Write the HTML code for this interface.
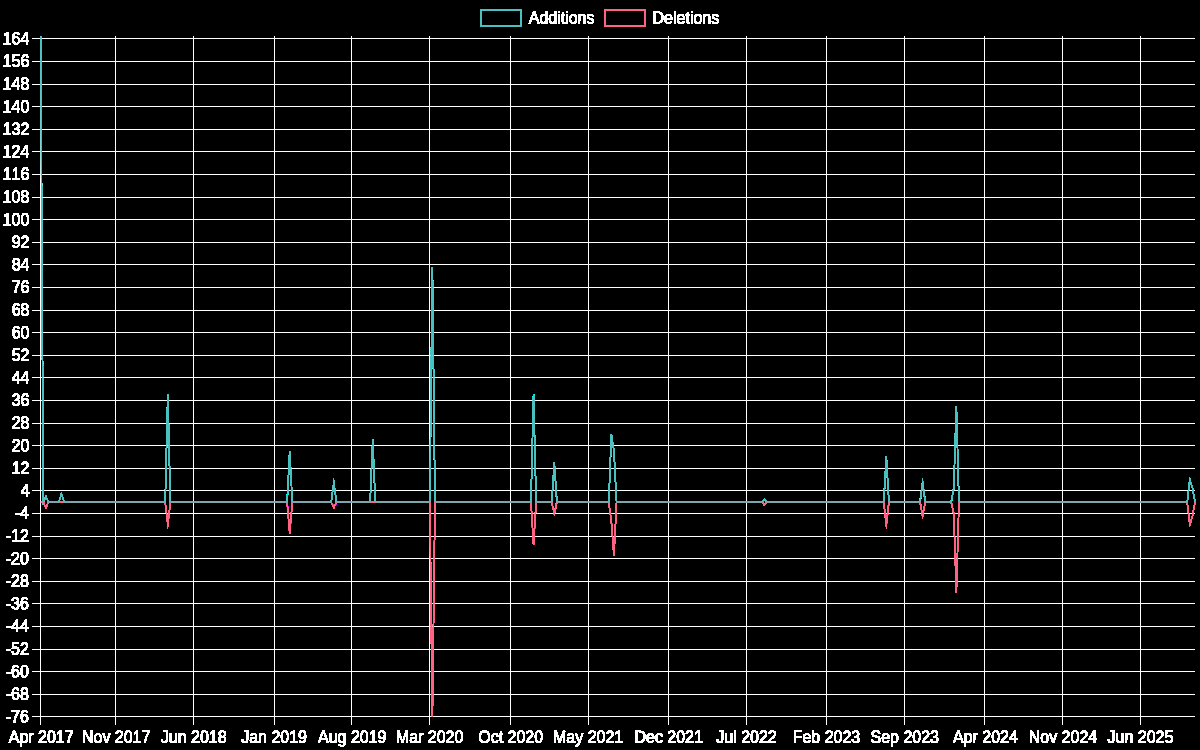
<!DOCTYPE html>
<html lang="en"><head><meta charset="utf-8"><title>Additions / Deletions</title>
<style>html,body{margin:0;padding:0;background:#000;overflow:hidden}body{width:1200px;height:750px;position:relative;font-family:"Liberation Sans",sans-serif}svg{position:absolute;left:0;top:0;display:block}text{font-family:"Liberation Sans",sans-serif;font-size:16px;fill:#fff;font-kerning:none}</style></head><body>
<svg width="1200" height="750" viewBox="0 0 1200 750">
<defs><filter id="th" x="0" y="0" width="1200" height="750" filterUnits="userSpaceOnUse" color-interpolation-filters="sRGB"><feComponentTransfer><feFuncA type="discrete" tableValues="0 1 1 1 1 1 1 1 1 1 1 1 1 1 1 1 1 1 1 1 1 1 1 1 1 1 1 1 1 1 1 1 1 1 1 1 1 1 1 1 1 1 1 1 1 1 1 1 1 1 1 1 1 1 1 1 1 1 1 1 1 1 1 1 1 1 1 1 1 1 1 1 1 1 1 1 1 1 1 1 1 1 1 1 1 1 1 1 1 1 1 1 1 1 1 1 1 1 1 1 1 1 1 1 1 1 1 1 1 1 1 1 1 1 1 1 1 1 1 1 1 1 1 1 1 1 1 1 1 1 1 1 1 1 1 1 1 1 1 1 1 1 1 1 1 1 1 1 1 1 1 1 1 1 1 1 1 1 1 1 1 1 1 1 1 1 1 1 1 1 1 1 1 1 1 1 1 1 1 1 1 1 1 1 1 1 1 1 1 1 1 1 1 1 1 1 1 1 1 1 1 1 1 1 1 1 1 1 1 1 1 1 1 1 1 1 1 1 1 1 1 1 1 1 1 1 1 1 1 1 1 1 1 1 1 1 1 1 1 1 1 1 1 1 1 1 1 1 1 1 1 1 1 1 1"/></feComponentTransfer></filter>
<clipPath id="cp"><rect x="40.1953" y="35.5000" width="1155.3047" height="681.8000"/></clipPath></defs>
<rect width="1200" height="750" fill="#000"/>
<g filter="url(#th)">
<path d="M40.5 36.00V724.80M115.5 36.00V724.80M193.5 36.00V724.80M274.5 36.00V724.80M351.5 36.00V724.80M429.5 36.00V724.80M510.5 36.00V724.80M588.5 36.00V724.80M668.5 36.00V724.80M746.5 36.00V724.80M826.5 36.00V724.80M904.5 36.00V724.80M984.5 36.00V724.80M1062.5 36.00V724.80M1140.5 36.00V724.80" stroke="rgba(255,255,255,0.2)" stroke-width="1" fill="none"/>
<path d="M32.6953 38.5H1195.00M32.6953 61.5H1195.00M32.6953 84.5H1195.00M32.6953 106.5H1195.00M32.6953 129.5H1195.00M32.6953 151.5H1195.00M32.6953 174.5H1195.00M32.6953 197.5H1195.00M32.6953 219.5H1195.00M32.6953 242.5H1195.00M32.6953 264.5H1195.00M32.6953 287.5H1195.00M32.6953 310.5H1195.00M32.6953 332.5H1195.00M32.6953 355.5H1195.00M32.6953 377.5H1195.00M32.6953 400.5H1195.00M32.6953 423.5H1195.00M32.6953 445.5H1195.00M32.6953 468.5H1195.00M32.6953 490.5H1195.00M32.6953 513.5H1195.00M32.6953 536.5H1195.00M32.6953 558.5H1195.00M32.6953 581.5H1195.00M32.6953 603.5H1195.00M32.6953 626.5H1195.00M32.6953 649.5H1195.00M32.6953 671.5H1195.00M32.6953 694.5H1195.00M32.6953 716.5H1195.00" stroke="rgba(255,255,255,0.2)" stroke-width="1" fill="none"/>
<g clip-path="url(#cp)" fill="none" stroke-linejoin="miter" stroke-miterlimit="10" stroke-linecap="butt">
<path d="M40.70 502.11L43.29 502.11L45.88 507.76L48.48 502.11L165.20 502.11L167.80 524.71L170.39 502.11L287.12 502.11L289.71 533.18L292.31 502.11L331.22 502.11L333.81 507.76L336.40 502.11L429.79 502.11L432.38 716.80L434.97 502.11L530.95 502.11L533.54 544.48L536.14 502.11L551.70 502.11L554.30 513.41L556.89 502.11L608.77 502.11L611.36 521.88L613.96 555.78L616.55 502.11L761.81 502.11L764.41 504.93L767.00 502.11L883.73 502.11L886.32 524.71L888.91 502.11L920.04 502.11L922.64 516.23L925.23 502.11L951.17 502.11L953.76 513.41L956.36 592.50L958.95 502.11L1187.22 502.11L1189.81 524.71L1192.41 516.23L1195.00 502.11" stroke="rgb(255,99,132)" stroke-width="1"/>
<path d="M43.29 502.11L45.88 507.76L48.48 502.11M165.20 502.11L167.80 524.71L170.39 502.11M287.12 502.11L289.71 533.18L292.31 502.11M331.22 502.11L333.81 507.76L336.40 502.11M429.79 502.11L432.38 716.80L434.97 502.11M530.95 502.11L533.54 544.48L536.14 502.11M551.70 502.11L554.30 513.41L556.89 502.11M608.77 502.11L611.36 521.88L613.96 555.78L616.55 502.11M761.81 502.11L764.41 504.93L767.00 502.11M883.73 502.11L886.32 524.71L888.91 502.11M920.04 502.11L922.64 516.23L925.23 502.11M951.17 502.11L953.76 513.41L956.36 592.50L958.95 502.11M1187.22 502.11L1189.81 524.71L1192.41 516.23L1195.00 502.11" stroke="rgb(255,99,132)" stroke-width="1.01"/>
<path d="M40.70 36.00L43.29 502.11L45.88 496.46L48.48 502.11L58.85 502.11L61.45 493.63L64.04 502.11L165.20 502.11L167.80 394.76L170.39 502.11L287.12 502.11L289.71 451.26L292.31 502.11L331.22 502.11L333.81 482.33L336.40 502.11L370.13 502.11L372.72 439.96L375.31 502.11L429.79 502.11L432.38 267.64L434.97 502.11L530.95 502.11L533.54 394.76L536.14 502.11L551.70 502.11L554.30 462.56L556.89 502.11L608.77 502.11L611.36 434.31L613.96 451.26L616.55 502.11L761.81 502.11L764.41 499.28L767.00 502.11L883.73 502.11L886.32 456.91L888.91 502.11L920.04 502.11L922.64 482.33L925.23 502.11L951.17 502.11L953.76 487.98L956.36 406.06L958.95 502.11L1187.22 502.11L1189.81 479.51L1192.41 487.98L1195.00 502.11" stroke="rgb(75,192,192)" stroke-width="1"/>
<path d="M40.70 36.00L43.29 502.11L45.88 496.46L48.48 502.11M58.85 502.11L61.45 493.63L64.04 502.11M165.20 502.11L167.80 394.76L170.39 502.11M287.12 502.11L289.71 451.26L292.31 502.11M331.22 502.11L333.81 482.33L336.40 502.11M370.13 502.11L372.72 439.96L375.31 502.11M429.79 502.11L432.38 267.64L434.97 502.11M530.95 502.11L533.54 394.76L536.14 502.11M551.70 502.11L554.30 462.56L556.89 502.11M608.77 502.11L611.36 434.31L613.96 451.26L616.55 502.11M761.81 502.11L764.41 499.28L767.00 502.11M883.73 502.11L886.32 456.91L888.91 502.11M920.04 502.11L922.64 482.33L925.23 502.11M951.17 502.11L953.76 487.98L956.36 406.06L958.95 502.11M1187.22 502.11L1189.81 479.51L1192.41 487.98L1195.00 502.11" stroke="rgb(75,192,192)" stroke-width="1.01"/>
</g>
<rect x="480.75" y="10" width="40" height="16" fill="none" stroke="rgb(75,192,192)" stroke-width="1.01"/>
<text transform="translate(528.75 23.50) rotate(0.03) scale(1 1.09)">Additions</text>
<rect x="604.57" y="10" width="40" height="16" fill="none" stroke="rgb(255,99,132)" stroke-width="1.01"/>
<text transform="translate(652.57 23.50) rotate(0.03) scale(1 1.09)">Deletions</text>
<g text-anchor="end">
<text transform="translate(29.39 44.25) rotate(0.03) scale(1 1.09)">164</text>
<text transform="translate(29.39 66.75) rotate(0.03) scale(1 1.09)">156</text>
<text transform="translate(29.39 89.50) rotate(0.03) scale(1 1.09)">148</text>
<text transform="translate(29.39 112.25) rotate(0.03) scale(1 1.09)">140</text>
<text transform="translate(29.39 134.75) rotate(0.03) scale(1 1.09)">132</text>
<text transform="translate(29.39 157.25) rotate(0.03) scale(1 1.09)">124</text>
<text transform="translate(29.39 179.75) rotate(0.03) scale(1 1.09)">116</text>
<text transform="translate(29.39 202.50) rotate(0.03) scale(1 1.09)">108</text>
<text transform="translate(29.39 225.25) rotate(0.03) scale(1 1.09)">100</text>
<text transform="translate(29.49 247.75) rotate(0.03) scale(1 1.09)">92</text>
<text transform="translate(29.49 270.25) rotate(0.03) scale(1 1.09)">84</text>
<text transform="translate(29.49 292.75) rotate(0.03) scale(1 1.09)">76</text>
<text transform="translate(29.49 315.50) rotate(0.03) scale(1 1.09)">68</text>
<text transform="translate(29.49 338.25) rotate(0.03) scale(1 1.09)">60</text>
<text transform="translate(29.49 360.75) rotate(0.03) scale(1 1.09)">52</text>
<text transform="translate(29.49 383.25) rotate(0.03) scale(1 1.09)">44</text>
<text transform="translate(29.49 405.75) rotate(0.03) scale(1 1.09)">36</text>
<text transform="translate(29.49 428.50) rotate(0.03) scale(1 1.09)">28</text>
<text transform="translate(29.49 451.25) rotate(0.03) scale(1 1.09)">20</text>
<text transform="translate(29.49 473.75) rotate(0.03) scale(1 1.09)">12</text>
<text transform="translate(29.59 496.25) rotate(0.03) scale(1 1.09)">4</text>
<text transform="translate(28.92 518.75) rotate(0.03) scale(1 1.09)">-4</text>
<text transform="translate(28.82 541.50) rotate(0.03) scale(1 1.09)">-12</text>
<text transform="translate(28.82 564.25) rotate(0.03) scale(1 1.09)">-20</text>
<text transform="translate(28.82 586.75) rotate(0.03) scale(1 1.09)">-28</text>
<text transform="translate(28.82 609.25) rotate(0.03) scale(1 1.09)">-36</text>
<text transform="translate(28.82 631.75) rotate(0.03) scale(1 1.09)">-44</text>
<text transform="translate(28.82 654.50) rotate(0.03) scale(1 1.09)">-52</text>
<text transform="translate(28.82 677.25) rotate(0.03) scale(1 1.09)">-60</text>
<text transform="translate(28.82 699.75) rotate(0.03) scale(1 1.09)">-68</text>
<text transform="translate(28.82 722.25) rotate(0.03) scale(1 1.09)">-76</text>
</g>
<g text-anchor="middle">
<text transform="translate(41.16 742.75) rotate(0.03) scale(1 1.09)">Apr 2017</text>
<text transform="translate(116.17 742.75) rotate(0.03) scale(1 1.09)">Nov 2017</text>
<text transform="translate(193.66 742.75) rotate(0.03) scale(1 1.09)">Jun 2018</text>
<text transform="translate(274.07 742.75) rotate(0.03) scale(1 1.09)">Jan 2019</text>
<text transform="translate(352.22 742.75) rotate(0.03) scale(1 1.09)">Aug 2019</text>
<text transform="translate(429.58 742.75) rotate(0.03) scale(1 1.09)">Mar 2020</text>
<text transform="translate(510.66 742.75) rotate(0.03) scale(1 1.09)">Oct 2020</text>
<text transform="translate(588.15 742.75) rotate(0.03) scale(1 1.09)">May 2021</text>
<text transform="translate(668.68 742.75) rotate(0.03) scale(1 1.09)">Dec 2021</text>
<text transform="translate(746.49 742.75) rotate(0.03) scale(1 1.09)">Jul 2022</text>
<text transform="translate(826.46 742.75) rotate(0.03) scale(1 1.09)">Feb 2023</text>
<text transform="translate(904.73 742.75) rotate(0.03) scale(1 1.09)">Sep 2023</text>
<text transform="translate(985.36 742.75) rotate(0.03) scale(1 1.09)">Apr 2024</text>
<text transform="translate(1062.95 742.75) rotate(0.03) scale(1 1.09)">Nov 2024</text>
<text transform="translate(1140.45 742.75) rotate(0.03) scale(1 1.09)">Jun 2025</text>
</g>
</g></svg></body></html>
